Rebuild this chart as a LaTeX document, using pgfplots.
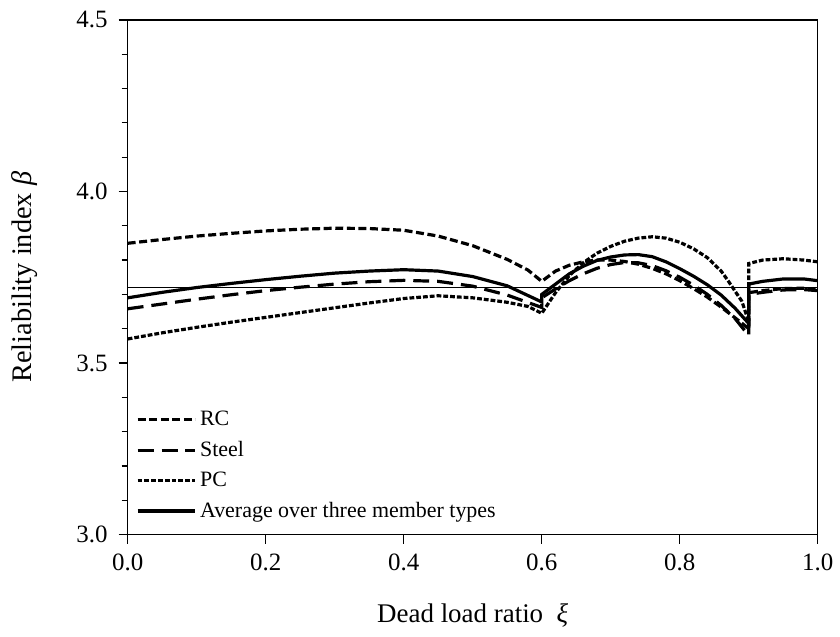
\documentclass[border=0pt]{standalone}
\usepackage{fontspec}
\setmainfont{Liberation Serif}
\usepackage{pgfplots}
\usepackage{pgfplotstable}
\pgfplotsset{compat=1.18}

\pgfplotstableread{
x y
0 3.849
0.05 3.860
0.10 3.870
0.15 3.878
0.20 3.885
0.25 3.890
0.30 3.893
0.35 3.892
0.40 3.887
0.45 3.870
0.50 3.842
0.55 3.802
0.58 3.771
0.60 3.738
0.62 3.768
0.64 3.785
0.66 3.795
0.68 3.800
0.70 3.800
0.72 3.796
0.74 3.788
0.76 3.776
0.78 3.760
0.80 3.740
0.82 3.717
0.84 3.692
0.86 3.663
0.88 3.632
0.90 3.600
0.90 3.705
0.92 3.711
0.95 3.717
0.98 3.718
1.00 3.714
}\rcdata

\pgfplotstableread{
x y
0 3.658
0.05 3.672
0.10 3.686
0.15 3.699
0.20 3.711
0.25 3.721
0.30 3.730
0.35 3.737
0.40 3.741
0.45 3.738
0.50 3.724
0.55 3.698
0.60 3.662
0.60 3.690
0.62 3.716
0.64 3.740
0.66 3.760
0.68 3.776
0.70 3.787
0.72 3.793
0.74 3.792
0.76 3.784
0.78 3.769
0.80 3.750
0.82 3.727
0.84 3.700
0.86 3.668
0.88 3.630
0.90 3.580
0.90 3.700
0.92 3.706
0.95 3.713
0.98 3.714
1.00 3.711
}\steeldata

\pgfplotstableread{
x y
0 3.570
0.05 3.588
0.10 3.604
0.15 3.619
0.20 3.633
0.25 3.647
0.30 3.661
0.35 3.675
0.40 3.688
0.45 3.696
0.50 3.690
0.55 3.677
0.58 3.665
0.60 3.645
0.62 3.705
0.64 3.755
0.66 3.792
0.68 3.820
0.70 3.840
0.72 3.855
0.74 3.864
0.76 3.868
0.78 3.864
0.80 3.852
0.82 3.833
0.84 3.807
0.86 3.768
0.87 3.740
0.88 3.710
0.89 3.680
0.90 3.620
0.90 3.790
0.92 3.800
0.95 3.804
0.98 3.800
1.00 3.795
}\pcdata

\pgfplotstableread{
x y
0 3.690
0.05 3.706
0.10 3.720
0.15 3.732
0.20 3.743
0.25 3.753
0.30 3.762
0.35 3.768
0.40 3.772
0.45 3.768
0.50 3.752
0.55 3.725
0.60 3.678
0.60 3.700
0.62 3.730
0.64 3.760
0.66 3.782
0.68 3.799
0.70 3.809
0.72 3.815
0.74 3.816
0.76 3.810
0.78 3.795
0.80 3.775
0.82 3.753
0.84 3.728
0.86 3.698
0.88 3.660
0.90 3.615
0.90 3.730
0.92 3.738
0.95 3.745
0.98 3.745
1.00 3.740
}\avgdata

\begin{document}
\begin{tikzpicture}
\begin{axis}[
  scale only axis, width=346pt, height=258pt,
  xmin=0, xmax=1, ymin=3, ymax=4.5,
  xtick={0,0.2,0.4,0.6,0.8,1},
  ytick={3,3.5,4,4.5},
  minor y tick num=4,
  xtick pos=bottom, ytick pos=left,
  tick align=outside,
  major tick length=4.5pt, minor tick length=3pt,
  tick style={black, line width=0.6pt},
  axis line style={line width=0.6pt},
  /pgf/number format/fixed,
  /pgf/number format/fixed zerofill,
  /pgf/number format/precision=1,
  /pgf/number format/assume math mode=true,
  tick label style={font=\fontsize{12.5}{14}\selectfont},
  yticklabel style={xshift=-2pt},
  xticklabel style={yshift=-1.5pt},
  xlabel={Dead load ratio\ \ \textit{ξ}},
  ylabel={Reliability index \textit{β}},
  xlabel style={font=\fontsize{13.5}{16}\selectfont, at={(axis description cs:0.5,-0.157)}, anchor=center},
  ylabel style={font=\fontsize{14.2}{16}\selectfont, at={(axis description cs:-0.1496,0.5)}, anchor=center},
  legend image code/.code={\draw[#1] (0pt,0pt) -- (29pt,0pt);},
  legend style={draw=none, fill=none, at={(axis description cs:0,0)}, anchor=south west,
    xshift=1pt, yshift=3pt, row sep=2.3pt,
    font=\fontsize{11}{12}\selectfont, nodes={inner xsep=1.5pt}},
  legend cell align=left,
]
\addplot[black, line width=0.9pt, forget plot] coordinates {(0,3.72) (1,3.72)};
\addplot[black, line width=1.6pt, dash pattern=on 4pt off 1.8pt] table {\rcdata};
\addlegendentry{RC}
\addplot[black, line width=1.6pt, dash pattern=on 8pt off 4pt] table {\steeldata};
\addlegendentry{Steel}
\addplot[black, line width=1.6pt, dash pattern=on 2.4pt off 1pt] table {\pcdata};
\addlegendentry{PC}
\addplot[black, line width=1.6pt] table {\avgdata};
\addlegendentry{Average over three member types}
\end{axis}
\path ([xshift=-64pt,yshift=-51pt]current axis.south west) rectangle ([xshift=10pt,yshift=10pt]current axis.north east);
\end{tikzpicture}
\end{document}
